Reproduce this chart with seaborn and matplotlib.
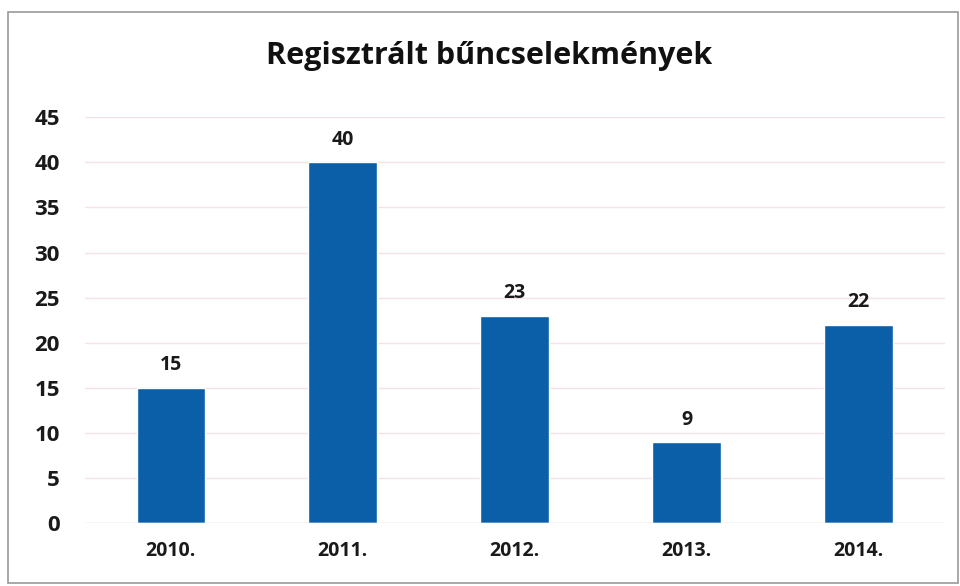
import matplotlib
matplotlib.use("Agg")
import pandas as pd
import seaborn as sns
import matplotlib.pyplot as plt
from matplotlib.patches import Rectangle

# Data
years = ['2010.', '2011.', '2012.', '2013.', '2014.']
counts = [15, 40, 23, 9, 22]

data = pd.DataFrame({'year': years, 'count': counts})

sns.set_theme(style="white")
plt.rcParams['font.family'] = ['Open Sans', 'DejaVu Sans']

f = plt.figure(figsize=(9.6, 5.86), dpi=100)
ax = f.add_axes([0.0885, 0.107, 0.8955, 0.693])

sns.barplot(data=data, x='year', y='count', color='#0b5fa8',
            width=0.4, saturation=1, ax=ax)

# Value labels
for c in ax.containers:
    ax.bar_label(c, padding=9, fontsize=14, fontweight='bold',
                 color='#1a1a1a')

ax.set_ylim(0, 45)
ax.set_yticks(range(0, 50, 5))
ax.set(xlabel='', ylabel='')
ax.yaxis.grid(True, color='#f3e3e6', linewidth=1)
ax.set_axisbelow(True)
sns.despine(ax=ax, left=True, bottom=True, top=True, right=True)
ax.axhline(0, color='#e6e6e6', linewidth=1)
ax.tick_params(axis='y', labelsize=16, pad=12, colors='#1a1a1a')
ax.tick_params(axis='x', labelsize=14, pad=7, colors='#1a1a1a')
for lab in ax.get_yticklabels() + ax.get_xticklabels():
    lab.set_fontweight('bold')

f.suptitle('Regisztrált bűncselekmények', x=0.51, y=0.93,
           fontsize=22, fontweight='bold', color='#111111')

# Outer frame like the scanned chart border
f.patches.append(Rectangle((0.008, 0.005), 0.99, 0.975, transform=f.transFigure,
                           fill=False, edgecolor='#9a9a9a', linewidth=1.2))

f.savefig('out.png', dpi=100)
